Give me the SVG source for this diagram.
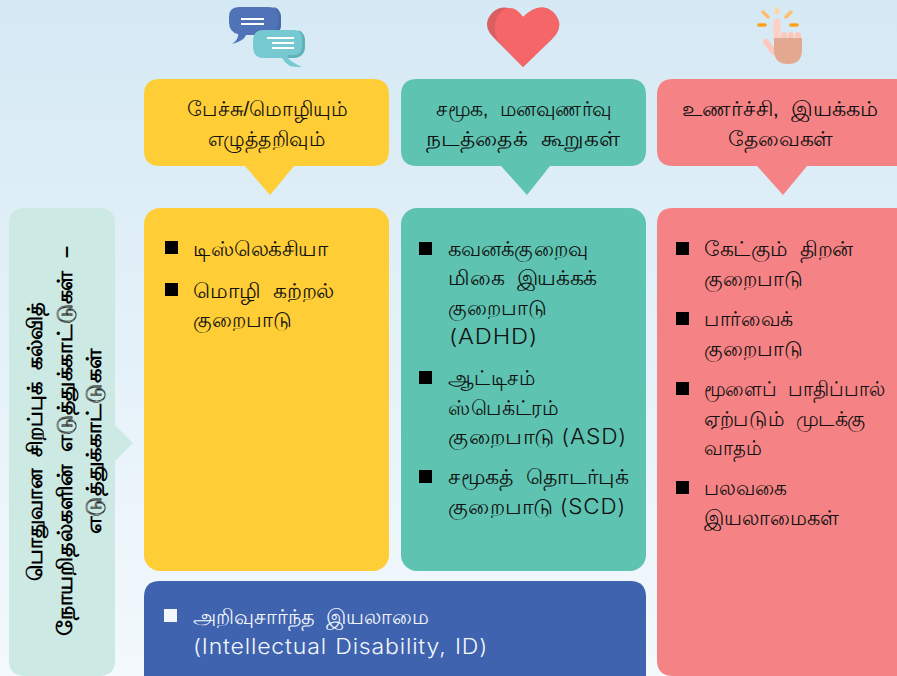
<svg xmlns="http://www.w3.org/2000/svg" width="897" height="676" viewBox="0 0 897 676">
<defs>
<linearGradient id="bg" x1="0" y1="0" x2="0" y2="1"><stop offset="0" stop-color="#d5e9f4"/><stop offset="1" stop-color="#f3f9fd"/></linearGradient>
<rect id="sq" width="13" height="13" fill="#000"/>
</defs>
<style>
text{font-family:"Liberation Sans",sans-serif;font-size:20.5px;fill:#111;word-spacing:6px}
.w{fill:#f2f6fb}
.l{font-family:"Inter","Liberation Sans",sans-serif;font-size:21px;letter-spacing:.75px;font-weight:300;word-spacing:1px}
.m{word-spacing:0}
.b{font-weight:700;fill:#000}
.y{fill:#ffcd35}.g{fill:#5ec4b1}.r{fill:#f58385}.u{fill:#3f63ae}
</style>
<rect width="897" height="676" fill="url(#bg)"/>
<g id="icon-chat">
<path d="M239 7H268Q281 7 281 20V24Q281 35 268 35H246Q244 41 232 44Q239 39 238 34Q229 32 229 22V17Q229 7 239 7Z" fill="#5073b8"/>
<path d="M273 7Q281 8 281 18V25Q281 34 270 35L262 35V32H268Q278 32 278 24V16Q278 10 273 7Z" fill="#476aa8"/>
<path d="M241 19H264M241 24H264" stroke="#fff" stroke-width="2" fill="none"/>
<path d="M264 30H293Q305 30 305 42V46Q305 58 293 58H288Q291 62 302 67Q294 67 290 66Q285 63 282 58H264Q253 58 253 46V41Q253 30 264 30Z" fill="#76c9d1"/>
<path d="M298 30Q305 32 305 42V46Q305 57 293 58L288 58V55H293Q302 55 302 46V40Q302 34 298 30Z" fill="#63b1b8"/>
<path d="M267 38H294M272 43H294M272 48H294" stroke="#fff" stroke-width="2" fill="none"/>
</g>
<g id="icon-heart">
<path d="M523 67L495 39Q480 25 493 12Q506 1 523 17Q540 1 553 12Q566 25 552 39Z" fill="#d95f63"/>
<path d="M523 67L504 47Q490 34 497 17Q503 8 510 8Q517 8 523 17Q540 1 553 12Q566 25 552 39Z" fill="#f56669"/>
</g>
<g id="icon-hand">
<path d="M766 42L774 52" stroke="#fcc7bc" stroke-width="6" stroke-linecap="round"/>
<path d="M777 38V22" stroke="#fdcfc5" stroke-width="7" stroke-linecap="round"/>
<path d="M784 38V35M791 38V35M798 38V35" stroke="#fdc7bb" stroke-width="6" stroke-linecap="round"/>
<path d="M774 38H802V50Q802 64 788 64Q774 64 774 50Z" fill="#e3a990"/>
<path d="M759 25H765M791 25H797" stroke="#ffa21a" stroke-width="3.5" stroke-linecap="round"/>
<path d="M763 12L768 17M791 12L786 17" stroke="#ffbe6e" stroke-width="3.5" stroke-linecap="round"/>
<path d="M777 9V13" stroke="#ffd8a0" stroke-width="4" stroke-linecap="round"/>
</g>
<g id="header-speech">
<path class="y" d="M160 79H373Q389 79 389 95V150Q389 166 373 166H294L270 195L245 166H160Q144 166 144 150V95Q144 79 160 79Z"/>
<text x="187" y="116" textLength="161" lengthAdjust="spacingAndGlyphs">பேச்சு/மொழியும்</text>
<text x="208" y="146" textLength="117" lengthAdjust="spacingAndGlyphs">எழுத்தறிவும்</text>
</g>
<g id="header-social">
<path class="g" d="M417 79H630Q646 79 646 95V150Q646 166 630 166H550L527 195L501 166H417Q401 166 401 150V95Q401 79 417 79Z"/>
<text x="436" y="116" textLength="176" lengthAdjust="spacingAndGlyphs">சமூக, மனவுணர்வு</text>
<text x="426" y="146" textLength="194" lengthAdjust="spacingAndGlyphs">நடத்தைக் கூறுகள்</text>
</g>
<g id="header-sensory">
<path class="r" d="M673 79H897V166H807L783 195L757 166H673Q657 166 657 150V95Q657 79 673 79Z"/>
<text x="682" y="116" textLength="196" lengthAdjust="spacingAndGlyphs">உணர்ச்சி, இயக்கம்</text>
<text x="728" y="146" textLength="105" lengthAdjust="spacingAndGlyphs">தேவைகள்</text>
</g>
<g id="side-label">
<path d="M25 208H99Q115 208 115 224V425L133 443L115 461V660Q115 676 99 676H25Q9 676 9 660V224Q9 208 25 208Z" fill="#cde9e3"/>
<text class="b" transform="translate(42 581) rotate(-90)" textLength="279" lengthAdjust="spacingAndGlyphs">பொதுவான சிறப்புக் கல்வித்</text>
<text class="b" transform="translate(72 636) rotate(-90)" textLength="390" lengthAdjust="spacingAndGlyphs">நோயறிதல்களின் எடுத்துக்காட்டுகள் –</text>
<text class="b" transform="translate(101 534) rotate(-90)" textLength="185" lengthAdjust="spacingAndGlyphs">எடுத்துக்காட்டுகள்</text>
</g>
<g id="col-speech">
<rect class="y" x="144" y="208" width="245" height="363" rx="16"/>
<use href="#sq" x="165" y="241"/>
<text x="193" y="256" textLength="135" lengthAdjust="spacingAndGlyphs">டிஸ்லெக்சியா</text>
<use href="#sq" x="165" y="283"/>
<text x="193" y="298" textLength="141" lengthAdjust="spacingAndGlyphs">மொழி கற்றல்</text>
<text x="193" y="327" textLength="99" lengthAdjust="spacingAndGlyphs">குறைபாடு</text>
</g>
<g id="col-social">
<rect class="g" x="401" y="208" width="245" height="363" rx="16"/>
<use href="#sq" x="419" y="242"/>
<text x="448" y="256" textLength="140" lengthAdjust="spacingAndGlyphs">கவனக்குறைவு</text>
<text x="448" y="285" textLength="149" lengthAdjust="spacingAndGlyphs">மிகை இயக்கக்</text>
<text x="448" y="315" textLength="99" lengthAdjust="spacingAndGlyphs">குறைபாடு</text>
<text class="l" x="449" y="344" textLength="89" lengthAdjust="spacingAndGlyphs">(ADHD)</text>
<use href="#sq" x="419" y="371"/>
<text x="448" y="385" textLength="87" lengthAdjust="spacingAndGlyphs">ஆட்டிசம்</text>
<text x="448" y="415" textLength="111" lengthAdjust="spacingAndGlyphs">ஸ்பெக்ட்ரம்</text>
<text class="m" x="448" y="444" textLength="179" lengthAdjust="spacingAndGlyphs">குறைபாடு <tspan class="l" font-size="22">(ASD)</tspan></text>
<use href="#sq" x="419" y="470"/>
<text x="448" y="484" textLength="181" lengthAdjust="spacingAndGlyphs">சமூகத் தொடர்புக்</text>
<text class="m" x="448" y="514" textLength="178" lengthAdjust="spacingAndGlyphs">குறைபாடு <tspan class="l">(SCD)</tspan></text>
</g>
<g id="col-sensory">
<path class="r" d="M673 208H897V676H673Q657 676 657 660V224Q657 208 673 208Z"/>
<use href="#sq" x="676" y="242"/>
<text x="704" y="256" textLength="149" lengthAdjust="spacingAndGlyphs">கேட்கும் திறன்</text>
<text x="704" y="286" textLength="99" lengthAdjust="spacingAndGlyphs">குறைபாடு</text>
<use href="#sq" x="676" y="312"/>
<text x="704" y="326" textLength="89" lengthAdjust="spacingAndGlyphs">பார்வைக்</text>
<text x="704" y="356" textLength="99" lengthAdjust="spacingAndGlyphs">குறைபாடு</text>
<use href="#sq" x="676" y="382"/>
<text x="704" y="396" textLength="181" lengthAdjust="spacingAndGlyphs">மூளைப் பாதிப்பால்</text>
<text x="704" y="426" textLength="162" lengthAdjust="spacingAndGlyphs">ஏற்படும் முடக்கு</text>
<text x="704" y="455" textLength="58" lengthAdjust="spacingAndGlyphs">வாதம்</text>
<use href="#sq" x="676" y="481"/>
<text x="704" y="495" textLength="83" lengthAdjust="spacingAndGlyphs">பலவகை</text>
<text x="704" y="525" textLength="135" lengthAdjust="spacingAndGlyphs">இயலாமைகள்</text>
</g>
<g id="box-id">
<path class="u" d="M160 581H630Q646 581 646 597V676H144V597Q144 581 160 581Z"/>
<rect x="164" y="609" width="13" height="13" fill="#f2f6fb"/>
<text class="w" x="193" y="624" textLength="236" lengthAdjust="spacingAndGlyphs">அறிவுசார்ந்த இயலாமை</text>
<text class="w l" x="193" y="654" textLength="295" lengthAdjust="spacingAndGlyphs">(Intellectual Disability, ID)</text>
</g>
<g id="connectors"></g>
</svg>
